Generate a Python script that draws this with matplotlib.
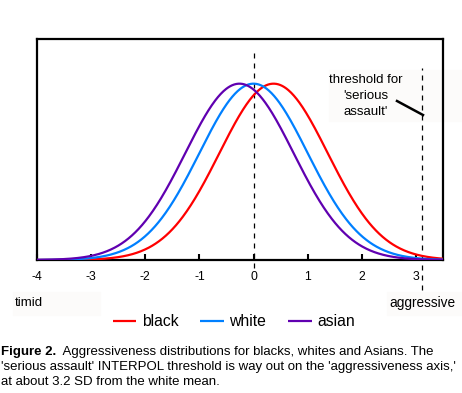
import numpy as np
import matplotlib
matplotlib.use("Agg")
import matplotlib.pyplot as plt
from matplotlib.patches import Rectangle

plt.rcParams['font.family'] = ['Liberation Sans', 'DejaVu Sans']

# ---- data ----
groups = ["black", "white", "asian"]
means = [0.37, 0.0, -0.26]          # in SD units, read from peaks
sds = [1.0, 1.0, 1.0]
colors = ["#ff0000", "#0080ff", "#6000b0"]
xticks = [-4, -3, -2, -1, 0, 1, 2, 3]
threshold = 3.12
x_range = (-4, 3.5)

W, H = 462, 393
BG = '#fcfbfa'
fig = plt.figure(figsize=(W / 100, H / 100), dpi=100)
ax = fig.add_axes([37 / W, 1 - 260 / H, (443 - 37) / W, (260 - 39) / H])
ax.set_zorder(1)
ax.patch.set_alpha(0)

x = np.linspace(x_range[0], x_range[1], 600)
for g, m, s, c in zip(groups, means, sds, colors):
    y = np.exp(-0.5 * ((x - m) / s) ** 2) / (s * np.sqrt(2 * np.pi))
    ax.plot(x, y, color=c, lw=1.6, label=g, solid_capstyle='butt', zorder=3)

ax.set_xlim(*x_range)
ax.set_ylim(0, 0.5)
ax.set_yticks([])
ax.set_xticks(xticks)
ax.set_xticklabels([str(t) for t in xticks], fontsize=8.8)
ax.tick_params(axis='x', direction='in', length=4, width=1.5, pad=8)
for sp in ax.spines.values():
    sp.set_linewidth(1.6)

# dashed lines
ax.plot([0, 0], [-0.018, 0.48], color='black', lw=0.9, ls=(0, (4, 4)),
        clip_on=False, zorder=2)
ax.plot([threshold, threshold], [-0.068, 0.434], color='black', lw=0.9,
        ls=(0, (4, 4)), clip_on=False, zorder=2)

# threshold annotation
fig.patches.append(Rectangle((329 / W, 1 - 121 / H), (462 - 329) / W, 51 / H,
                             transform=fig.transFigure, color=BG, zorder=0))
fig.text(366 / W, 1 - 96 / H, "threshold for\n'serious\nassault'", ha='center',
         va='center', fontsize=9.5, linespacing=1.45, zorder=5)
fig.add_artist(plt.Line2D([397 / W, 423 / W], [1 - 101 / H, 1 - 115 / H],
                          transform=fig.transFigure, color='black', lw=1.8,
                          zorder=5))

# timid / aggressive
fig.patches.append(Rectangle((13 / W, 1 - 315 / H), 87 / W, 23 / H,
                             transform=fig.transFigure, color=BG, zorder=0))
fig.patches.append(Rectangle((387 / W, 1 - 315 / H), 75 / W, 23 / H,
                             transform=fig.transFigure, color=BG, zorder=0))
fig.text(15 / W, 1 - 303 / H, "timid", ha='left', va='center', fontsize=9.5)
fig.text(389 / W, 1 - 303 / H, "aggressive", ha='left', va='center', fontsize=9.8)

# legend
fig.legend(loc='center', bbox_to_anchor=(234 / W, 1 - 322 / H), ncol=3,
           frameon=False, fontsize=11.3, handlelength=1.5, handletextpad=0.35,
           columnspacing=1.4)

# caption
FS = 9.5
t1 = fig.text(1 / W, 1 - 355 / H, "Figure 2.", fontsize=FS, fontweight='bold',
              ha='left', va='baseline')
fig.canvas.draw()
bb = t1.get_window_extent()
fig.text(bb.x1 / W, 1 - 355 / H,
         "  Aggressiveness distributions for blacks, whites and Asians. The",
         fontsize=FS, ha='left', va='baseline')
fig.text(1 / W, 1 - 370 / H,
         "'serious assault' INTERPOL threshold is way out on the 'aggressiveness axis,'",
         fontsize=FS, ha='left', va='baseline')
fig.text(1 / W, 1 - 385 / H, "at about 3.2 SD from the white mean.",
         fontsize=FS, ha='left', va='baseline')

fig.savefig("out.png", dpi=100)
